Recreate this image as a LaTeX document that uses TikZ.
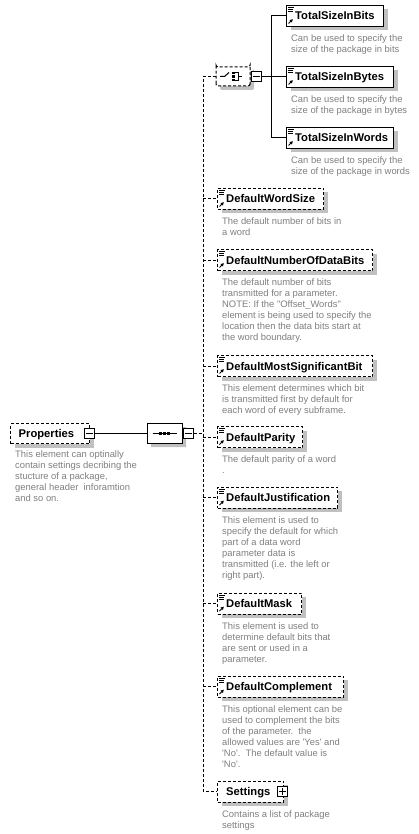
\documentclass[tikz,border=0pt]{standalone}
\usepackage{fontspec}
\newfontfamily\dfont{Liberation Sans}
\usetikzlibrary{shapes.misc,shadows,arrows.meta}
\definecolor{shadowgray}{RGB}{192,192,192}
\definecolor{descgray}{RGB}{128,128,128}
\newcommand\sr{\rule{0pt}{8pt}}
\newcommand\xelem[6]{%
  \node[#2, minimum width=#5pt] (#1) at (#3,#4) {};
  \node[etitle] (#1-t) at (#3+9,#4+15) {#6};
}
\newcommand\xicon[2]{%
  \draw[line width=0.8pt] (#1+2,#2+2.5) -- (#1+7.5,#2+2.5) (#1+2,#2+4.5) -- (#1+6.5,#2+4.5) (#1+2,#2+6.5) -- (#1+6.5,#2+6.5);
  \draw[line width=1pt, -{Triangle[length=3pt,width=3.2pt]}] (#1+2.5,#2+18.5) -- (#1+6.8,#2+14.2);
}
\tikzset{
  box/.style={draw=black, line width=1pt, fill=white, minimum height=21pt, inner sep=0pt, anchor=north west,
    general shadow={fill=shadowgray, shadow xshift=4pt, shadow yshift=-4pt}},
  solidbox/.style={box},
  optbox/.style={box, dash pattern=on 3pt off 2pt},
  etitle/.style={font=\dfont\fontsize{11.2}{13}\selectfont\bfseries, anchor=base west, inner sep=0pt},
  desc/.style={font=\dfont\fontsize{9.4}{11}\selectfont, text=descgray, align=left, anchor=north west, inner sep=0pt},
  conn/.style={line width=1pt},
  dconn/.style={line width=1pt, dash pattern=on 3pt off 2pt},
  pm/.style={draw=black, line width=1pt, fill=white, minimum size=10pt, inner sep=0pt},
  compositor/.style={chamfered rectangle, chamfered rectangle xsep=5pt, chamfered rectangle ysep=5pt,
    draw=black, line width=1pt, fill=white, inner sep=0pt,
    general shadow={fill=shadowgray, shadow xshift=4pt, shadow yshift=-4pt}},
}
\begin{document}
\begin{tikzpicture}[x=1pt,y=-1pt]
\useasboundingbox[fill=white] (0,0) rectangle (418,834);
% bus coordinates
\coordinate (bus) at (203,76.5);
\coordinate (cbus) at (271,76.5);

% --- Properties
\node[optbox, minimum width=79pt, minimum height=20pt] (prop) at (10,423) {};
\node[etitle] (prop-t) at (18.5,437.5) {Properties};
\node[desc] (prop-d) at (15,449) {\sr This element can optinally\\contain settings decribing the\\stucture of a package,\\general header\ \ inforamtion\\and so on.};
\node[pm] (propm) at (89.5,433) {};
\draw[line width=1pt] ([xshift=2pt]propm.west) -- ([xshift=-2pt]propm.east);

% --- Sequence
\node[compositor, minimum width=35pt, minimum height=20pt] (seq) at (164.5,433) {};
\draw[line width=1pt] (152.5,433) -- (176.5,433);
\fill (159,431.5) rectangle (162,434.5);
\fill (163,431.5) rectangle (166,434.5);
\fill (167,431.5) rectangle (170,434.5);
\node[pm] (seqm) at (188,433) {};
\draw[line width=1pt] ([xshift=2pt]seqm.west) -- ([xshift=-2pt]seqm.east);
\draw[conn] (propm.east) -- (seq.west);

% --- Elements
\xelem{tsb}{solidbox}{286}{5}{97}{TotalSizeInBits}
\xelem{tsby}{solidbox}{286}{66}{107}{TotalSizeInBytes}
\xelem{tsw}{solidbox}{286}{127}{107}{TotalSizeInWords}
\xelem{dws}{optbox}{217}{188}{106}{DefaultWordSize}
\xelem{dndb}{optbox}{217}{249}{155}{DefaultNumberOfDataBits}
\xelem{dmsb}{optbox}{217}{355}{155}{DefaultMostSignificantBit}
\xelem{dp}{optbox}{217}{426}{85}{DefaultParity}
\xelem{dj}{optbox}{217}{486.5}{120}{DefaultJustification}
\xelem{dm}{optbox}{217}{592.5}{84}{DefaultMask}
\xelem{dc}{optbox}{217}{675.5}{126}{DefaultComplement}
\xelem{set}{optbox}{217}{780.5}{66}{Settings}
\xicon{286}{5}
\xicon{286}{66}
\xicon{286}{127}
\xicon{217}{188}
\xicon{217}{249}
\xicon{217}{355}
\xicon{217}{426}
\xicon{217}{486.5}
\xicon{217}{592.5}
\xicon{217}{675.5}
\node[pm] (setp) at (282.5,791) {};
\draw[line width=1pt] ([xshift=2pt]setp.west) -- ([xshift=-2pt]setp.east)
  ([yshift=-2pt]setp.north) -- ([yshift=2pt]setp.south);

% --- Descriptions
\node[desc] (tsb-d) at (291,33.5) {\sr Can be used to specify the\\size of the package in bits};
\node[desc] (tsby-d) at (291,94.5) {\sr Can be used to specify the\\size of the package in bytes};
\node[desc] (tsw-d) at (291,155.5) {\sr Can be used to specify the\\size of the package in words};
\node[desc] (dws-d) at (222,216.5) {\sr The default number of bits in\\a word};
\node[desc] (dndb-d) at (222,277.5) {\sr The default number of bits\\transmitted for a parameter.\\NOTE: If the "Offset\_Words"\\element is being used to specify the\\location then the data bits start at\\the word boundary.};
\node[desc] (dmsb-d) at (222,383.5) {\sr This element determines which bit\\is transmitted first by default for\\each word of every subframe.};
\node[desc] (dp-d) at (222,454.5) {\sr The default parity of a word\\.};
\node[desc] (dj-d) at (222,515) {\sr This element is used to\\specify the default for which\\part of a data word\\parameter data is\\transmitted (i.e. the left or\\right part).};
\node[desc] (dm-d) at (222,621) {\sr This element is used to\\determine default bits that\\are sent or used in a\\parameter.};
\node[desc] (dc-d) at (222,704) {\sr This optional element can be\\used to complement the bits\\of the parameter.\ \ the\\allowed values are 'Yes' and\\'No'.\ \ The default value is\\'No'.};
\node[desc] (set-d) at (222,809) {\sr Contains a list of package\\settings};

% --- Choice compositor
\node[compositor, dash pattern=on 3pt off 2pt, rounded corners=2pt, minimum width=34pt, minimum height=19pt] (cho) at (233,76.5) {};
\draw[line width=1pt] (220,76.5) -- (224.5,76.5) -- (229,72.5);
\fill (232,72) rectangle (234.5,74.5);
\fill (232,75.3) rectangle (234.5,77.8);
\fill (232,78.6) rectangle (234.5,81.1);
\draw[line width=1pt] (235,73) -- (238,73) -- (238,80.5) -- (235,80.5) (238,76.5) -- (242,76.5);
\node[pm] (chom) at (256.5,76.5) {};
\draw[line width=1pt] ([xshift=2pt]chom.west) -- ([xshift=-2pt]chom.east);

% --- Connectors
\draw[conn] (chom.east) -- (cbus);
\draw[conn] (tsb.west -| cbus) -- (tsw.west -| cbus);
\draw[conn] (tsb.west -| cbus) -- (tsb.west);
\draw[conn] (tsby.west -| cbus) -- (tsby.west);
\draw[conn] (tsw.west -| cbus) -- (tsw.west);
\draw[dconn] (cho.west) -- (bus) -- (set.west -| bus) -- (set.west);
\draw[dconn] (seqm.east) -- (seqm.east -| bus);
\foreach \n in {dws,dndb,dmsb,dp,dj,dm,dc}{
  \draw[dconn] (\n.west -| bus) -- (\n.west);
}
\end{tikzpicture}
\end{document}
